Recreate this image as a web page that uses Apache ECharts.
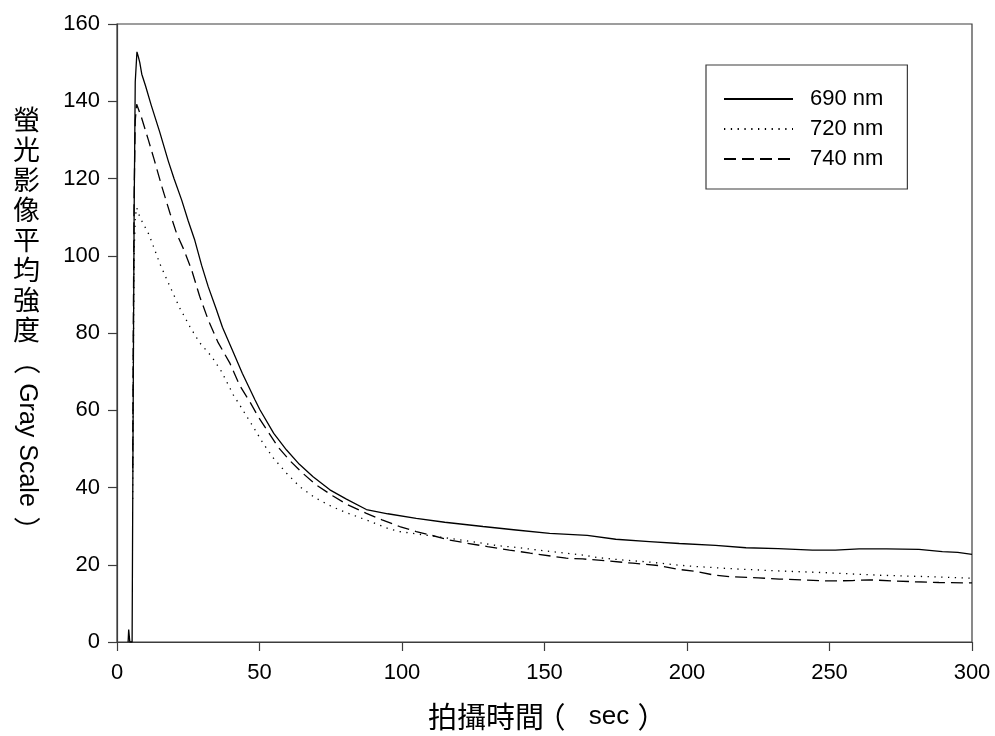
<!DOCTYPE html>
<html>
<head>
<meta charset="utf-8">
<script src="https://cdn.jsdelivr.net/npm/echarts@6/dist/echarts.min.js"></script>
<style>
  html, body { margin: 0; padding: 0; background: #fff; }
  #chart { width: 995px; height: 736px; }
</style>
</head>
<body>
<div id="chart"></div>
<script>
// Mean fluorescence intensity (gray scale) over acquisition time, three wavelengths.
// Each entry is [time (sec), intensity].
const seriesNames = ['690 nm', '720 nm', '740 nm'];

const data690 = [
  [3.9, 0], [4.1, 3.2], [4.5, 0], [5.3, 0], [5.6, 50], [6.0, 110], [6.4, 145], [7.0, 152.8],
  [7.5, 151.5], [8.0, 150], [8.7, 147], [10, 144], [12, 139], [15, 132], [18, 124.5],
  [20, 120], [22.7, 114.4], [25, 109], [27.3, 104], [29.7, 97.5], [32, 92], [34.9, 86],
  [37, 81.5], [40.8, 75], [44, 69.5], [48.4, 62.7], [50.1, 60.2], [55, 54], [59.5, 49.7],
  [64, 46], [68.8, 42.8], [74.7, 39.4], [80.5, 37], [87.5, 34.3], [95, 33.2], [105, 32],
  [115, 31], [128.4, 29.9], [140, 29], [151.8, 28.1], [165, 27.6], [175, 26.6],
  [186.8, 26], [197.3, 25.5], [210, 25], [220.7, 24.4], [232, 24.2], [244, 23.8],
  [252, 23.8], [260.4, 24.1], [270, 24.1], [281.4, 24], [289.6, 23.4], [295, 23.2], [300, 22.7]
];

const data720 = [
  [5.5, 37], [5.7, 70], [6.0, 100], [6.4, 110], [6.9, 112.5], [8, 110], [11, 105.8],
  [12.2, 103.6], [15, 98], [18.6, 92], [22, 86.5], [25.6, 81.6], [29, 77.5], [33.2, 73.9],
  [36.7, 70], [40.8, 64], [43.7, 60.6], [47.8, 55.7], [51.3, 51.4], [55, 47.5], [59.5, 43.7],
  [64, 40.3], [69.4, 37.4], [75, 35.2], [80, 33.6], [87.5, 31.6], [95, 29.4], [99, 28.6],
  [105, 28], [115, 27], [122.6, 26.2], [134, 24.9], [140, 24.5], [150, 23.6], [163.4, 22.5],
  [169.3, 21.8], [178, 21.2], [186.8, 20.7], [197, 19.9], [202, 19.6], [215, 19],
  [232, 18.4], [250, 17.9], [267, 17.3], [285, 16.9], [300, 16.5]
];

const data740 = [
  [5.5, 45], [5.7, 80], [6.0, 115], [6.4, 135], [6.9, 139.2], [7.5, 138], [8.5, 136],
  [11, 130], [13, 125], [15.7, 118], [18.6, 111], [20.9, 105.8], [23.5, 101.5], [26.2, 96.3],
  [29, 89.5], [32, 83.4], [35.5, 77.5], [39.6, 72.2], [43, 66.5], [46.6, 62.2], [49.5, 58.4],
  [52.5, 55], [56.5, 50.5], [60.6, 47], [65, 43.8], [70, 40.6], [75.8, 37.8], [81, 35.5],
  [87.5, 33.3], [93, 31.6], [99.2, 29.9], [105, 28.6], [110, 27.7], [116.7, 26.4],
  [122.6, 25.6], [130, 24.7], [137.7, 23.8], [145, 23], [157.6, 21.7], [163.4, 21.5],
  [172, 21], [181, 20.4], [190, 19.8], [197, 18.8], [203.2, 18.3], [209, 17.4], [215, 16.9],
  [225, 16.6], [232.4, 16.3], [240, 16.1], [250, 15.8], [258, 15.9], [264, 16.1],
  [273, 15.8], [280, 15.6], [288.4, 15.4], [300, 15.3]
];

const xTicks = { min: 0, max: 300, interval: 50 };
const yTicks = { min: 0, max: 160, interval: 20 };

const yTitleCJK = ['螢', '光', '影', '像', '平', '均', '強', '度'];
const yTitleUnit = 'Gray Scale';
const xTitleCJK = '拍攝時間';
const xTitleUnit = 'sec';

const latinFont = '"Liberation Sans", Arial, sans-serif';
const cjkFont = '"Noto Sans CJK TC", "Liberation Sans", sans-serif';
const ink = '#000';
const axisInk = '#3c3c3c';

const chart = echarts.init(document.getElementById('chart'), null, { renderer: 'canvas' });

function lineSeries(name, data, type, width) {
  return {
    name: name,
    type: 'line',
    data: data,
    symbol: 'none',
    smooth: false,
    animation: false,
    lineStyle: { color: ink, width: width, type: type },
    itemStyle: { color: ink }
  };
}

function text(opts) {
  return { type: 'text', silent: true, ...opts };
}

chart.setOption({
  animation: false,
  backgroundColor: '#fff',
  grid: {
    left: 117, right: 23, top: 24, bottom: 94,
    show: true, borderColor: axisInk, borderWidth: 1.2, backgroundColor: 'transparent'
  },
  legend: {
    data: seriesNames,
    orient: 'vertical',
    left: 706,
    top: 65,
    padding: [23, 24, 19, 17],
    itemWidth: 69,
    itemHeight: 14,
    itemGap: 8,
    borderColor: axisInk,
    borderWidth: 1.2,
    backgroundColor: '#fff',
    itemStyle: { opacity: 0 },
    textStyle: { fontFamily: latinFont, fontSize: 22, color: ink, padding: [0, 0, 0, 12] }
  },
  xAxis: {
    type: 'value',
    min: xTicks.min, max: xTicks.max, interval: xTicks.interval,
    axisLine: { show: true, onZero: false, lineStyle: { color: axisInk, width: 1.2 } },
    axisTick: { show: true, inside: false, length: 9, lineStyle: { color: axisInk, width: 1.2 } },
    axisLabel: { fontFamily: latinFont, fontSize: 22, color: ink, margin: 20 },
    splitLine: { show: false }
  },
  yAxis: {
    type: 'value',
    min: yTicks.min, max: yTicks.max, interval: yTicks.interval,
    axisLine: { show: true, onZero: false, lineStyle: { color: axisInk, width: 1.2 } },
    axisTick: { show: true, inside: false, length: 9, lineStyle: { color: axisInk, width: 1.2 } },
    axisLabel: { fontFamily: latinFont, fontSize: 22, color: ink, margin: 17 },
    splitLine: { show: false }
  },
  series: [
    lineSeries(seriesNames[0], data690, 'solid', 1.3),
    lineSeries(seriesNames[1], data720, [1.3, 5.5], 1.3),
    lineSeries(seriesNames[2], data740, [12, 6], 1.3)
  ],
  graphic: [
    // vertical y-axis title: CJK upright, unit rotated clockwise
    text({
      left: 13, top: 105,
      style: { text: yTitleCJK.join('\n'), font: '27px ' + cjkFont, lineHeight: 30, fill: ink }
    }),
    text({
      x: 27, y: 361, rotation: -Math.PI / 2,
      style: { text: '（', font: '27px ' + cjkFont, fill: ink, align: 'center', verticalAlign: 'middle' }
    }),
    text({
      x: 27, y: 445, rotation: -Math.PI / 2,
      style: { text: yTitleUnit, font: '25px ' + latinFont, fill: ink, align: 'center', verticalAlign: 'middle' }
    }),
    text({
      x: 27, y: 530, rotation: -Math.PI / 2,
      style: { text: '）', font: '27px ' + cjkFont, fill: ink, align: 'center', verticalAlign: 'middle' }
    }),
    // x-axis title
    text({
      x: 428, y: 717,
      style: { text: xTitleCJK, font: '29px ' + cjkFont, fill: ink, align: 'left', verticalAlign: 'middle' }
    }),
    text({
      x: 551, y: 717,
      style: { text: '（', font: '29px ' + cjkFont, fill: ink, align: 'center', verticalAlign: 'middle' }
    }),
    text({
      x: 609, y: 717,
      style: { text: xTitleUnit, font: '26px ' + latinFont, fill: ink, align: 'center', verticalAlign: 'middle' }
    }),
    text({
      x: 652, y: 717,
      style: { text: '）', font: '29px ' + cjkFont, fill: ink, align: 'center', verticalAlign: 'middle' }
    })
  ]
});
</script>
</body>
</html>
